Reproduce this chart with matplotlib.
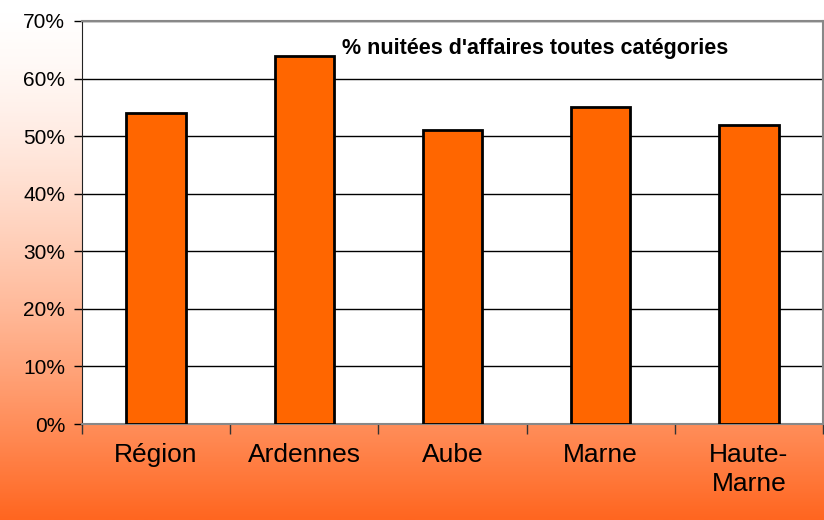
import numpy as np
import matplotlib
matplotlib.use("Agg")
import matplotlib.pyplot as plt
from matplotlib.colors import LinearSegmentedColormap
from matplotlib.ticker import FixedLocator, NullFormatter

categories = ["Région", "Ardennes", "Aube", "Marne", "Haute-\nMarne"]
values = [54, 64, 51, 55, 52]
yticks = [0, 10, 20, 30, 40, 50, 60, 70]
title = "% nuitées d'affaires toutes catégories"

plt.rcParams['font.family'] = ['Liberation Sans', 'DejaVu Sans']

fig = plt.figure(figsize=(8.24, 5.2), dpi=100)

# fond dégradé blanc -> orange
bg = fig.add_axes([0, 0, 1, 1], zorder=-10)
cmap = LinearSegmentedColormap.from_list("bg", ["#ffffff", "#ff6620"])
grad = np.linspace(0, 1, 256).reshape(-1, 1) ** 1.5
bg.imshow(grad, aspect="auto", cmap=cmap, extent=[0, 1, 0, 1], origin="upper",
          vmin=0, vmax=1)
bg.axis("off")

ax = fig.add_axes([82 / 824, 1 - 424 / 520, 741 / 824, 403 / 520])
ax.set_facecolor("white")
x = np.arange(len(categories))
ax.bar(x, values, width=0.4, color="#ff6600", edgecolor="black", linewidth=2, zorder=3)

ax.set_xlim(-0.5, len(categories) - 0.5)
ax.set_ylim(0, 70)
ax.set_yticks(yticks)
ax.set_yticklabels([f"{v}%" for v in yticks], fontsize=15)
ax.yaxis.grid(True, color="black", linewidth=1, zorder=0)
ax.set_axisbelow(True)

ax.set_xticks(x)
ax.set_xticklabels(categories, fontsize=19, linespacing=1.25)
ax.tick_params(axis="x", length=0, pad=14)
ax.xaxis.set_minor_locator(FixedLocator(np.arange(-0.5, len(categories), 1)))
ax.xaxis.set_minor_formatter(NullFormatter())
ax.tick_params(axis="x", which="minor", length=7, width=1, color="#333333", direction="out")
ax.tick_params(axis="y", length=6, width=1, direction="out", pad=6)

for s in ["top", "right"]:
    ax.spines[s].set_color("#888888")
    ax.spines[s].set_linewidth(1.5)
ax.spines["left"].set_color("#222222")
ax.spines["bottom"].set_color("#888888")
ax.spines["bottom"].set_linewidth(1.5)

ax.text(0.611, 0.933, title, transform=ax.transAxes, ha="center", va="center",
        fontsize=15.5, fontweight="bold")

fig.savefig("out.png", dpi=100)
